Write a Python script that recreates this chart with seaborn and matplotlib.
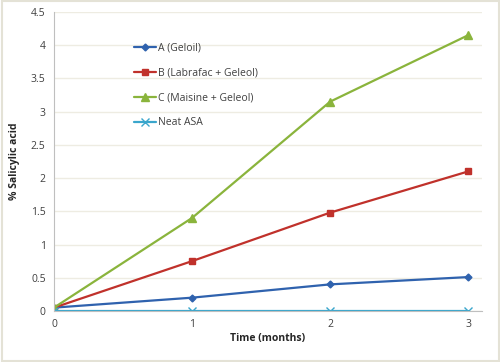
import pandas as pd
import matplotlib.pyplot as plt
import seaborn as sns

# values
months = [0, 1, 2, 3]
geloil = [0.05, 0.20, 0.40, 0.51]
labrafac = [0.05, 0.75, 1.48, 2.10]
maisine = [0.05, 1.40, 3.15, 4.15]
neat_asa = [0.0, 0.0, 0.0, 0.0]
series_names = ["A (Geloil)", "B (Labrafac + Geleol)", "C (Maisine + Geleol)", "Neat ASA"]
y_ticks = [0, 0.5, 1, 1.5, 2, 2.5, 3, 3.5, 4, 4.5]
y_tick_labels = ["0", "0.5", "1", "1.5", "2", "2.5", "3", "3.5", "4", "4.5"]

df = pd.DataFrame({
    "Time": months * 4,
    "value": geloil + labrafac + maisine + neat_asa,
    "series": [n for n in series_names for _ in months],
})

sns.set_style("white")
plt.rcParams["font.family"] = ["Open Sans", "DejaVu Sans"]

palette = {"A (Geloil)": "#2F62AE", "B (Labrafac + Geleol)": "#C0312B",
           "C (Maisine + Geleol)": "#8AB43C", "Neat ASA": "#3AA6CC"}
markers = {"A (Geloil)": "D", "B (Labrafac + Geleol)": "s",
           "C (Maisine + Geleol)": "^", "Neat ASA": "x"}
msizes = {"A (Geloil)": 3.5, "B (Labrafac + Geleol)": 5,
          "C (Maisine + Geleol)": 5.5, "Neat ASA": 6}

fig = plt.figure(figsize=(5, 3.62), dpi=100)
ax = fig.add_axes([0.108, 0.141, 0.856, 0.826])

for name in series_names:
    sub = df[df["series"] == name]
    sns.lineplot(data=sub, x="Time", y="value", ax=ax, color=palette[name],
                 marker=markers[name], markersize=msizes[name], linewidth=1.6,
                 markeredgecolor=palette[name], markeredgewidth=1.0, label=name)

ax.set_xlim(0, 3.1)
ax.set_ylim(0, 4.5)
ax.set_xticks(months)
ax.set_yticks(y_ticks)
ax.set_yticklabels(y_tick_labels)
ax.tick_params(labelsize=7.5, colors="#404040", length=0, pad=6)
ax.yaxis.grid(True, color="#EEECE2", linewidth=1)
for s in ["top", "right"]:
    ax.spines[s].set_visible(False)
for s in ["left", "bottom"]:
    ax.spines[s].set_color("#BFBFBF")
ax.set_xlabel("Time (months)", fontsize=7.5, fontweight="bold", color="#262626", labelpad=2)
ax.set_ylabel("% Salicylic acid", fontsize=7.5, fontweight="bold", color="#262626", labelpad=8)

ax.legend(loc="upper left", bbox_to_anchor=(0.165, 0.93), frameon=False, fontsize=7.5,
          labelspacing=1.35, handlelength=2.1, handletextpad=0.2, labelcolor="#404040")

fig.patches.append(plt.Rectangle((0.003, 0.003), 0.994, 0.994, transform=fig.transFigure,
                                 fill=False, edgecolor="#E4E2D6", linewidth=1.5))

fig.savefig("out.png", dpi=100)
